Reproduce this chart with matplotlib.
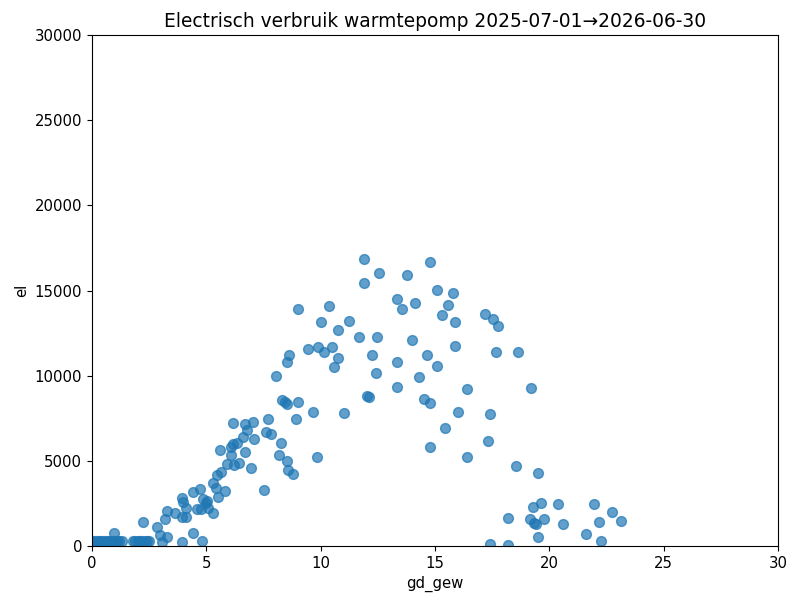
import matplotlib
matplotlib.use("Agg")
from matplotlib import pyplot as plt

plt.rcParams['font.size'] = 10.7

# graaddagen (gewogen) per dag en elektrisch verbruik
gd_gew = [0.02, 0.1, 0.2, 0.3, 0.4, 0.5, 0.6, 0.7, 0.8, 0.9, 1.0, 1.1, 1.2, 1.3,
          0.98, 1.8, 1.9, 2.0, 2.1, 2.2, 2.3, 2.4, 2.5, 2.24,
          2.86, 3.19, 3.29, 2.97, 3.29, 3.05, 3.63, 3.92, 3.99, 4.11, 3.92, 4.11,
          3.95, 4.40, 4.80, 4.40, 4.72, 4.61, 4.87, 4.98, 4.77, 5.09, 5.30, 5.01,
          5.28, 5.42, 5.52, 5.82, 5.45, 5.63, 5.92, 6.21, 6.43, 6.94, 5.60, 6.08,
          6.15, 6.33, 6.08, 6.69, 6.62, 7.10, 6.18, 6.69, 7.05, 6.79, 7.71, 7.61,
          7.83, 7.52, 8.25, 8.19, 8.51, 8.58, 8.44,
          8.63, 8.51, 8.05, 9.46, 9.90, 10.14, 10.48, 10.77, 10.60, 8.29, 8.51,
          9.02, 9.68, 11.02, 8.92, 12.01, 12.13, 12.23, 12.42, 9.82, 8.80,
          11.89, 14.78, 12.56, 13.76, 11.89, 15.10, 15.77, 15.55, 15.32, 15.87,
          13.32, 14.12, 13.57, 9.02, 10.36, 10.01, 11.24, 10.77, 11.69, 12.45,
          13.98, 15.87, 14.66, 13.32, 15.10, 14.31, 13.32, 16.41,
          14.53, 14.78, 15.99, 15.43, 14.78, 16.41,
          17.18, 17.52, 17.74, 17.65, 18.61, 19.18, 17.40, 17.33, 18.53, 19.51,
          19.62, 19.30, 20.38, 21.94, 22.72, 23.13, 22.17, 21.61, 22.27, 20.61,
          19.75, 19.17, 19.34, 19.41, 18.20, 19.51, 17.40, 18.20]
el = [290, 300, 280, 310, 270, 300, 290, 310, 280, 300, 290, 310, 280, 300,
      780, 290, 300, 280, 310, 290, 300, 280, 300, 1430,
      1135, 1585, 2055, 645, 546, 250, 1920, 2800, 2600, 2210, 1720, 1685,
      250, 745, 310, 3150, 3345, 2170, 2760, 2540, 2150, 2210, 1955, 2660,
      3680, 3390, 2900, 3250, 4170, 4360, 4800, 4755, 4850, 4600, 5640, 5830,
      5970, 6030, 5340, 5540, 6420, 6260, 7240, 7140, 7300, 6810, 7440, 6710,
      6575, 3290, 6030, 5340, 4990, 4460, 8470,
      11210, 10820, 9980, 11550, 11660, 11410, 11660, 11020, 10530, 8570, 8340,
      8470, 7850, 7790, 7470, 8810, 8730, 11210, 10170, 5210, 4230,
      16830, 16670, 16010, 15910, 15460, 15030, 14840, 14150, 13560, 13130,
      14500, 14250, 13900, 13910, 14090, 13170, 13210, 12680, 12290, 12250,
      12090, 11740, 11210, 10780, 10590, 9900, 9360, 9220,
      8630, 8380, 7850, 6910, 5790, 5210,
      13620, 13330, 12930, 11370, 11370, 9260, 7750, 6180, 4700, 4270,
      2500, 2310, 2450, 2450, 2015, 1490, 1390, 705, 310, 1310,
      1585, 1565, 1350, 1290, 1625, 545, 117, 60]

fig = plt.figure(figsize=(8, 6.05), dpi=100)
plt.scatter(gd_gew, el, s=50, alpha=0.7)
plt.xlim(0, 30)
plt.ylim(0, 30000)
plt.xlabel('gd_gew')
plt.ylabel('el')
plt.title('Electrisch verbruik warmtepomp 2025-07-01\u21922026-06-30', fontsize=13.4)
plt.subplots_adjust(left=0.115, right=0.9725, top=0.942, bottom=0.0975)
plt.savefig('out.png')
